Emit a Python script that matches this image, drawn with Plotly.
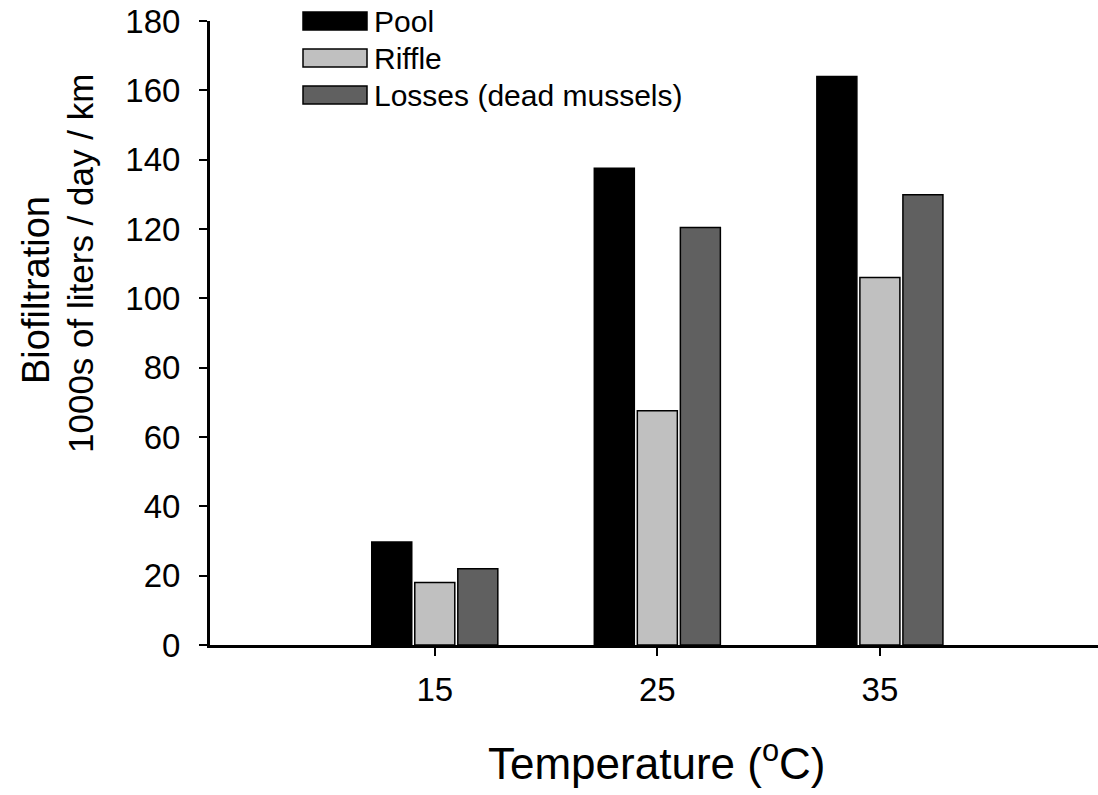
import plotly.graph_objects as go

# ---- data ----
temperatures = [15, 25, 35]
series_names = ["Pool", "Riffle", "Losses (dead mussels)"]
pool = [29.7, 137.5, 164.0]
riffle = [18.0, 67.6, 106.0]
losses = [22.0, 120.4, 129.9]
y_ticks = [0, 20, 40, 60, 80, 100, 120, 140, 160, 180]
y_title_lines = ["Biofiltration", "1000s of liters / day / km"]
x_title = "Temperature (<sup>o</sup>C)"

colors = ["#000000", "#c0c0c0", "#606060"]
values = [pool, riffle, losses]

W, H = 1098, 795
L, R, T, B = 210, 0, 21, 150
PW, PH = W - L - R, H - T - B

def px_x(px):
    return (px - L) / PW

def px_y(py):
    return (H - B - py) / PH

FONT = "Liberation Sans, Arial, sans-serif"

fig = go.Figure()
for name, vals, col in zip(series_names, values, colors):
    fig.add_trace(go.Bar(
        x=temperatures, y=vals, name=name,
        marker=dict(color=col, line=dict(color="#000000", width=1.5)),
        showlegend=False,
    ))

# custom legend (wide swatches like the reference)
row_y = [21, 58, 95]
for name, col, ry in zip(series_names, colors, row_y):
    fig.add_shape(type="rect", xref="paper", yref="paper",
                  x0=px_x(303), x1=px_x(367), y0=px_y(ry + 9), y1=px_y(ry - 9),
                  fillcolor=col, line=dict(color="#000000", width=1.5))
    fig.add_annotation(x=px_x(372), y=px_y(ry), xref="paper", yref="paper",
                       text=name, showarrow=False, xanchor="left", yanchor="middle",
                       font=dict(family=FONT, size=30, color="#000000"))

# y-axis title (two lines)
for txt, cx, cy, fs in zip(y_title_lines, [36, 80], [290, 264], [38, 35]):
    fig.add_annotation(x=px_x(cx), y=px_y(cy), xref="paper", yref="paper",
                       text=txt, textangle=-90, showarrow=False,
                       xanchor="center", yanchor="middle",
                       font=dict(family=FONT, size=fs, color="#000000"))

# x-axis title
fig.add_annotation(x=px_x(656), y=px_y(760), xref="paper", yref="paper",
                   text=x_title, showarrow=False, xanchor="center", yanchor="middle",
                   font=dict(family=FONT, size=44, color="#000000"))

fig.update_layout(
    width=W, height=H,
    margin=dict(l=L, r=R, t=T, b=B),
    paper_bgcolor="white", plot_bgcolor="white",
    barmode="group", bargap=0.42, bargroupgap=0.07,
    font=dict(family=FONT, color="#000000"),
)
fig.update_xaxes(
    range=[4.9, 44.8], tickvals=temperatures, ticktext=[str(t) for t in temperatures],
    showline=True, linecolor="#000000", linewidth=3, showgrid=False, zeroline=False,
    ticks="outside", ticklen=8, tickwidth=1.5, tickcolor="#000000",
    tickfont=dict(family=FONT, size=33, color="#000000"), ticklabelstandoff=5,
)
fig.update_yaxes(
    range=[0, 180], tickvals=y_ticks,
    showline=True, linecolor="#000000", linewidth=3, showgrid=False, zeroline=False,
    ticks="outside", ticklen=8, tickwidth=1.5, tickcolor="#000000",
    tickfont=dict(family=FONT, size=33, color="#000000"), ticklabelstandoff=12,
)

fig.write_html("out.html")
